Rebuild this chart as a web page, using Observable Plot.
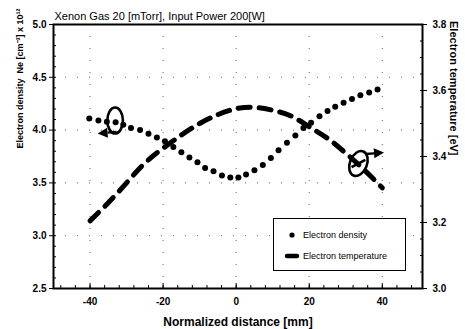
<!DOCTYPE html>
<html>
<head>
<meta charset="utf-8">
<script src="https://cdn.jsdelivr.net/npm/d3@7"></script>
<script src="https://cdn.jsdelivr.net/npm/@observablehq/plot@0.6"></script>
<style>
  body { margin: 0; background: #fff; }
  #wrap { position: relative; width: 465px; height: 329px; font-family: "Liberation Sans", Arial, sans-serif; }
  #legend { position: absolute; left: 273px; top: 218px; width: 133px; height: 53px; border: 1px solid #000; background: #fff; box-sizing: border-box; font-size: 9px; color: #000; }
  #legend .row { position: absolute; left: 0; height: 12px; line-height: 12px; white-space: nowrap; }
  #legend svg { position: absolute; left: 8px; top: 0; }
  #legend span { position: absolute; left: 29px; top: 0; }
</style>
</head>
<body>
<div id="wrap">
  <div id="chart"></div>
  <div id="legend">
    <div class="row" style="top:10px"><svg width="20" height="12"><circle cx="10" cy="6" r="2.6" fill="#000"/></svg><span>Electron density</span></div>
    <div class="row" style="top:31px"><svg width="20" height="12"><line x1="5" y1="6" x2="15" y2="6" stroke="#000" stroke-width="4.5" stroke-linecap="round"/></svg><span>Electron temperature</span></div>
  </div>
</div>
<script>
// Electron density (left axis, x10^12 cm^-3) vs normalized distance (mm)
const densityDistance = [-40.2, -37.7, -35.4, -33.0, -30.9, -28.8, -26.3, -24.0, -21.7, -19.5, -17.2, -15.0, -12.8, -10.6, -8.5, -6.2, -3.9, -1.6, 0.6, 2.7, 5.0, 7.3, 9.5, 11.6, 13.9, 16.2, 18.4, 20.5, 22.8, 25.0, 27.1, 29.4, 31.7, 34.0, 36.4, 38.7];
const densityValues = [4.11, 4.09, 4.08, 4.075, 4.05, 4.02, 4.0, 3.965, 3.93, 3.895, 3.84, 3.79, 3.74, 3.695, 3.64, 3.61, 3.57, 3.55, 3.55, 3.58, 3.62, 3.67, 3.735, 3.81, 3.88, 3.95, 4.02, 4.07, 4.13, 4.18, 4.22, 4.26, 4.295, 4.33, 4.355, 4.385];

// Electron temperature (right axis, eV)
const tempDistance = [-40, -35, -30, -25, -20, -15, -10, -5, 0, 5, 10, 15, 20, 25, 30, 35, 40];
const tempValues = [3.205, 3.26, 3.32, 3.38, 3.425, 3.465, 3.5, 3.527, 3.545, 3.549, 3.54, 3.523, 3.49, 3.455, 3.41, 3.36, 3.305];

// Tick values
const xTicks = [-40, -20, 0, 20, 40];
const xMinor = d3.range(-48, 51, 4);
const leftTicks = [2.5, 3.0, 3.5, 4.0, 4.5, 5.0];
const leftMinor = d3.range(2.6, 5.0, 0.1);
const rightTicks = [3.0, 3.2, 3.4, 3.6, 3.8];
const rightMinor = d3.range(3.05, 3.8, 0.05);

// Annotation anchors (data units: distance, density scale)
const annotDistance = [-33.0, 33.6];
const annotDensity = [4.086, 3.679];
const arrowFromX = [-32.6, 35.6];
const arrowToX = [-37.8, 40.6];
const arrowFromY = [3.978, 3.769];
const arrowToY = [3.963, 3.783];

const titleText = "Xenon Gas 20 [mTorr], Input Power 200[W]";
const xLabel = "Normalized distance [mm]";
const leftLabel = "Electron density  Ne [cm\u207B\u00B3] x 10\u00B9\u00B2";
const rightLabel = "Electron temperature [eV]";

// map temperature (3.0–3.8) onto the density scale (2.5–5.0)
const toLeft = t => 2.5 + (t - 3.0) * (2.5 / 0.8);
const fromLeft = v => 3.0 + (v - 2.5) * (0.8 / 2.5);

const density = densityDistance.map((x, i) => ({x, y: densityValues[i]}));
const temperature = tempDistance.map((x, i) => ({x, y: toLeft(tempValues[i])}));
const annots = annotDistance.map((x, i) => ({x, y: annotDensity[i], i}));
const arrows = arrowFromX.map((x1, i) => ({x1, x2: arrowToX[i], y1: arrowFromY[i], y2: arrowToY[i]}));

const font = "Liberation Sans, Arial, sans-serif";

const ellipseMark = Plot.dot(annots, {
  x: "x", y: "y",
  render(index, scales, values) {
    const g = d3.create("svg:g").attr("fill", "none").attr("stroke", "#000").attr("stroke-width", 2.6);
    for (const i of index) {
      const cx = values.x[i], cy = values.y[i];
      const e = g.append("g").attr("transform", `translate(${cx},${cy}) rotate(${i === 1 ? 22 : 0})`);
      e.append("ellipse").attr("rx", i === 1 ? 8.5 : 7.8).attr("ry", 13);
      if (i === 1) e.append("line").attr("x1", 5).attr("y1", -6).attr("x2", -5).attr("y2", 6);
    }
    return g.node();
  }
});

const arrowMark = Plot.link(arrows, {
  x1: "x1", y1: "y1", x2: "x2", y2: "y2",
  render(index, scales, values) {
    const g = d3.create("svg:g");
    for (const i of index) {
      const x1 = values.x1[i], y1 = values.y1[i], x2 = values.x2[i], y2 = values.y2[i];
      const a = Math.atan2(y2 - y1, x2 - x1);
      const L = 10, W = 5;
      const bx = x2 - L * Math.cos(a), by = y2 - L * Math.sin(a);
      g.append("line").attr("x1", x1).attr("y1", y1).attr("x2", bx).attr("y2", by)
        .attr("stroke", "#000").attr("stroke-width", 2.4);
      g.append("path").attr("d", `M${x2},${y2}L${bx - W * Math.sin(a)},${by + W * Math.cos(a)}L${bx + W * Math.sin(a)},${by - W * Math.cos(a)}Z`)
        .attr("fill", "#000");
    }
    return g.node();
  }
});

const chart = Plot.plot({
  width: 465,
  height: 329,
  marginLeft: 53,
  marginRight: 43,
  marginTop: 24,
  marginBottom: 41,
  style: {fontFamily: font, background: "#fff", color: "#000"},
  x: {domain: [-50, 51]},
  y: {domain: [2.5, 5.0]},
  marks: [
    Plot.gridY([3.0, 3.5, 4.0, 4.5], {stroke: "#222", strokeOpacity: 0.7, strokeDasharray: "1,11"}),
    Plot.gridX(xTicks, {stroke: "#222", strokeOpacity: 0.7, strokeDasharray: "1,11"}),
    // left axis
    Plot.axisY(leftTicks, {anchor: "left", tickSize: 4, tickPadding: 3, tickFormat: d3.format(".1f"), fontSize: 10, fontWeight: "bold", label: null}),
    Plot.axisY(leftMinor, {anchor: "left", tickSize: 3, dx: 3, tickFormat: () => "", label: null}),
    // right axis (temperature)
    Plot.axisY(rightTicks.map(toLeft), {anchor: "right", tickSize: 4, tickPadding: 6, tickFormat: d => fromLeft(d).toFixed(1), fontSize: 10, fontWeight: "bold", label: null}),
    Plot.axisY(rightMinor.map(toLeft), {anchor: "right", tickSize: 3, dx: -3, tickFormat: () => "", label: null}),
    // bottom axis
    Plot.axisX(xTicks, {anchor: "bottom", tickSize: 0, tickPadding: 9, tickFormat: d => String(d), fontSize: 10, fontWeight: "bold", label: null}),
    Plot.axisX(xTicks, {anchor: "bottom", tickSize: 5, dy: -5, tickFormat: () => "", label: null}),
    Plot.axisX(xMinor, {anchor: "bottom", tickSize: 3, dy: -3, tickFormat: () => "", label: null}),
    Plot.frame({stroke: "#000", strokeWidth: 2}),
    // data
    Plot.line(temperature, {x: "x", y: "y", curve: "natural", stroke: "#000", strokeWidth: 5, strokeDasharray: "12,9", strokeLinecap: "round"}),
    Plot.dot(density, {x: "x", y: "y", r: 3, fill: "#000"}),
    ellipseMark,
    arrowMark,
    // texts
    Plot.text([titleText], {frameAnchor: "top-left", textAnchor: "start", lineAnchor: "bottom", dx: 1, dy: -5, fontSize: 11, fill: "#000"}),
    Plot.text([xLabel], {frameAnchor: "bottom", lineAnchor: "bottom", dy: 37, fontSize: 12, fontWeight: "bold", fill: "#000"}),
    Plot.text([leftLabel], {frameAnchor: "left", rotate: -90, dx: -33, dy: -8, fontSize: 9, fontWeight: "bold", fill: "#000"}),
    Plot.text([rightLabel], {frameAnchor: "right", rotate: 90, dx: 31, dy: -1, fontSize: 11, fontWeight: "bold", fill: "#000"})
  ]
});
document.getElementById("chart").appendChild(chart);
</script>
</body>
</html>
